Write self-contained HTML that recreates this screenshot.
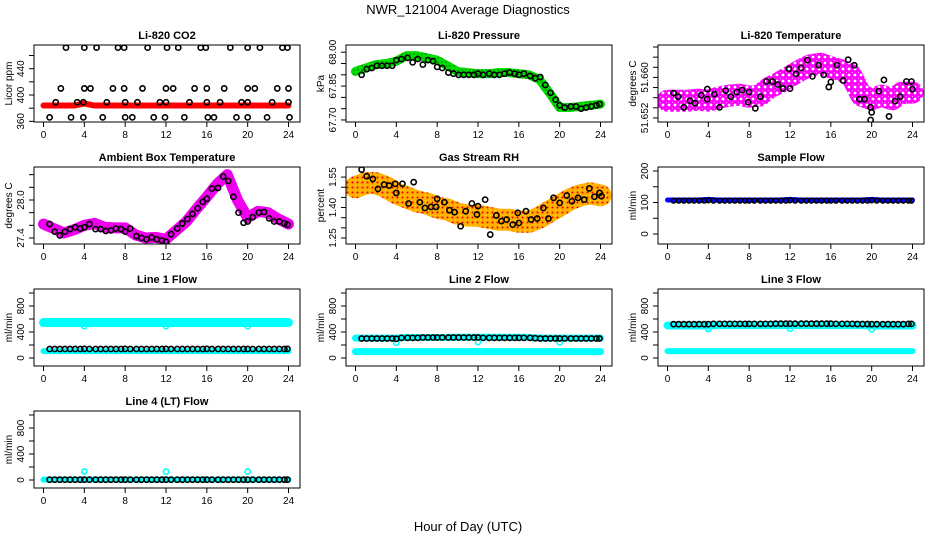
<!DOCTYPE html>
<html><head><meta charset="utf-8"><style>
html,body{margin:0;padding:0;background:#fff;}
svg{display:block;font-family:"Liberation Sans",sans-serif;}
</style></head><body>
<svg id="chart" width="936" height="540" viewBox="0 0 936 540" xmlns="http://www.w3.org/2000/svg">
<defs>
<pattern id="magPat" width="6" height="6" patternUnits="userSpaceOnUse"><rect width="6" height="6" fill="#f0f"/><circle cx="3" cy="3" r="1.4" fill="#fff"/><circle cx="0" cy="0" r="0.9" fill="#fff"/></pattern>
<pattern id="rhPat" width="5" height="5" patternUnits="userSpaceOnUse"><rect width="5" height="5" fill="#ffb000"/><circle cx="2.5" cy="2.5" r="1" fill="#e00"/><circle cx="0" cy="0" r="0.8" fill="#ff0"/></pattern>
<pattern id="grnPat" width="4" height="4" patternUnits="userSpaceOnUse"><rect width="4" height="4" fill="#0d0"/><circle cx="2" cy="2" r="0.7" fill="#060"/></pattern>
</defs>
<text x="468" y="14" font-size="13" text-anchor="middle">NWR_121004  Average Diagnostics</text>
<text x="468" y="531" font-size="13" text-anchor="middle">Hour of Day (UTC)</text>
</svg>
<script>
const hoursB=[0.6,1.1,1.6,2.1,2.6,3.1,3.6,4.0,4.5,5.1,5.6,6.1,6.6,7.1,7.6,8.0,8.5,9.1,9.6,10.1,10.6,11.1,11.6,12.0,12.5,13.1,13.6,14.1,14.6,15.1,15.6,16.0,16.5,17.1,17.6,18.1,18.6,19.1,19.6,20.0,20.5,21.1,21.6,22.1,22.6,23.1,23.6,23.9];
const hoursBand=[0,1,2,3,4,5,6,7,8,9,10,11,12,13,14,15,16,17,18,19,20,21,22,23,24];
const xTicks=[0,4,8,12,16,20,24];

const co2RedV=[384,384,384,384,387,384,384,384,384,384,384,384,384,384,384,384,384,384,384,384,384,384,384,384,384];
const co2OutT=[2.2,4.0,5.2,7.3,7.9,10.2,12.1,13.2,15.4,15.9,18.3,20.0,21.2,23.4,23.9, 1.7,4.0,4.6,6.8,7.9,9.7,12.0,12.7,14.8,16.0,17.7,20.0,20.7,22.9,24.0, 1.2,3.3,3.9,6.2,8.0,9.2,11.4,12.0,14.3,16.0,17.3,19.4,20.0,22.4,24.0, 0.6,2.7,3.9,5.8,8.0,8.7,10.8,11.9,13.8,16.1,16.7,18.9,20.0,21.9,24.1];
const co2OutV=[472,472,472,472,472,472,472,472,472,472,472,472,472,472,472, 410,410,410,410,410,410,410,410,410,410,410,410,410,410,410, 389,389,389,389,389,389,389,389,389,389,389,389,389,389,389, 366,366,366,366,366,366,366,366,366,366,366,366,366,366,366];
const presBandV=[67.915,67.93,67.945,67.95,67.96,67.985,67.985,67.975,67.965,67.94,67.915,67.91,67.905,67.905,67.91,67.91,67.905,67.90,67.88,67.82,67.755,67.755,67.76,67.765,67.77];
const presBlackV=[67.90,67.925,67.93,67.94,67.94,67.94,67.94,67.965,67.97,67.975,67.955,67.97,67.945,67.965,67.96,67.935,67.93,67.91,67.905,67.90,67.90,67.90,67.90,67.905,67.90,67.905,67.90,67.90,67.905,67.91,67.905,67.90,67.905,67.895,67.885,67.89,67.855,67.82,67.79,67.765,67.755,67.76,67.76,67.75,67.755,67.76,67.765,67.77];
const tempBandV=[51.6554,51.6554,51.6554,51.6556,51.6554,51.6560,51.6564,51.6566,51.6562,51.6564,51.6580,51.6590,51.6602,51.6614,51.6624,51.6627,51.6620,51.6614,51.6604,51.6564,51.6557,51.6564,51.6557,51.6570,51.6570];
const tempT=[0.6,1.05,1.6,2.2,2.7,3.3,3.9,3.9,4.6,5.1,5.7,6.2,6.8,7.3,7.9,8.0,8.6,9.1,9.7,10.3,10.8,11.3,11.9,12.0,12.6,13.1,13.7,14.2,14.8,15.3,15.8,16.0,16.6,17.2,17.7,18.3,18.8,19.3,19.9,20.0,19.9,20.7,21.2,21.7,22.3,22.8,23.4,23.9,24.0];
const tempV=[51.6569,51.6562,51.6541,51.6554,51.6549,51.6565,51.6577,51.6557,51.6567,51.6541,51.6574,51.6562,51.6571,51.6575,51.6551,51.6571,51.6539,51.6562,51.6592,51.6592,51.6586,51.6578,51.6617,51.6578,51.6607,51.6619,51.6634,51.6602,51.6624,51.6605,51.6581,51.6591,51.6624,51.6594,51.6635,51.6624,51.6557,51.6557,51.6541,51.6531,51.6516,51.6573,51.6595,51.6523,51.6553,51.6562,51.6592,51.6592,51.6577];
const ambBandV=[27.62,27.55,27.48,27.53,27.60,27.63,27.57,27.56,27.56,27.45,27.40,27.41,27.38,27.52,27.66,27.86,28.05,28.25,28.40,28.00,27.72,27.82,27.80,27.70,27.62];
const ambBlackV=[27.62,27.50,27.44,27.50,27.54,27.57,27.55,27.57,27.62,27.54,27.54,27.51,27.52,27.55,27.54,27.50,27.55,27.43,27.40,27.38,27.41,27.38,27.36,27.34,27.46,27.55,27.63,27.70,27.78,27.87,27.97,28.02,28.18,28.19,28.37,28.30,28.05,27.80,27.64,27.66,27.73,27.80,27.81,27.71,27.66,27.66,27.63,27.61];
const rhBandV=[1.50,1.52,1.52,1.50,1.47,1.45,1.43,1.42,1.40,1.39,1.37,1.36,1.36,1.35,1.34,1.34,1.33,1.33,1.35,1.38,1.41,1.44,1.46,1.47,1.46];
const rhT=[0.6,1.1,1.7,2.2,2.8,3.3,3.9,4.0,4.6,5.2,5.7,6.3,6.8,7.4,7.9,8.0,8.7,9.2,9.7,10.3,10.8,11.4,11.9,12.0,12.7,13.2,13.8,14.3,14.8,15.4,15.9,16.0,16.7,17.2,17.8,18.4,18.9,19.4,20.0,20.7,21.2,21.8,22.4,22.9,23.4,23.9,24.1];
const rhV=[1.587,1.554,1.541,1.492,1.513,1.508,1.517,1.472,1.517,1.420,1.525,1.426,1.398,1.403,1.403,1.443,1.426,1.387,1.377,1.308,1.382,1.420,1.366,1.407,1.439,1.267,1.361,1.333,1.341,1.316,1.374,1.324,1.382,1.341,1.346,1.398,1.346,1.448,1.423,1.459,1.431,1.448,1.439,1.494,1.453,1.472,1.456];
const sfBlueV=[108,108,108,108,110,108,108,108,108,108,108,108,110,108,108,108,108,108,108,108,110,108,108,108,108];
const sfBlackV=[106,106,106,106,106,106,106,107,106,106,106,106,106,106,106,106,106,106,106,106,106,106,106,107,106,106,106,106,106,106,106,106,106,106,106,106,106,106,106,107,106,106,106,106,106,106,106,106];
const l1UpperV=[545,545,545,545,545,545,545,545,545,545,545,545,545,545,545,545,545,545,545,545,545,545,545,545,545];
const l1LowerV=[105,105,105,105,105,105,105,105,105,105,105,105,105,105,105,105,105,105,105,105,105,105,105,105,105];
const l1BlackV=[138,138,138,138,138,138,138,140,138,138,138,138,138,138,138,140,138,138,138,138,138,138,138,140,138,138,138,138,138,138,138,140,138,138,138,138,138,138,138,138,138,138,138,138,138,138,138,140];
const l2UpperV=[305,305,305,305,305,315,315,315,315,315,320,320,320,320,320,320,320,315,305,305,305,305,305,305,305];
const l2LowerV=[98,98,98,98,98,98,98,98,98,98,98,98,98,98,98,98,98,98,98,98,98,98,98,98,98];
const l2BlackV=[300,300,300,300,300,300,300,295,310,310,310,310,315,315,315,315,315,315,315,315,315,315,315,315,310,310,310,310,310,310,310,310,310,310,305,300,300,300,300,300,300,300,300,300,300,300,300,300];
const l3UpperV=[500,500,500,500,500,505,505,505,505,505,505,505,505,505,505,505,505,505,505,505,500,500,500,500,500];
const l3LowerV=[105,105,105,105,105,105,105,105,105,105,105,105,105,105,105,105,105,105,105,105,105,105,105,105,105];
const l3BlackV=[520,520,520,520,520,520,520,520,525,525,525,525,525,525,525,525,525,525,525,525,528,528,528,528,528,528,528,528,528,528,528,528,525,525,525,525,522,522,522,520,520,520,520,520,520,520,525,525];
const l4V=[5,5,5,5,5,5,5,5,5,5,5,5,5,5,5,5,5,5,5,5,5,5,5,5,5];
const l4BlackV=[5,5,5,5,5,5,5,5,5,5,5,5,5,5,5,5,5,5,5,5,5,5,5,5,5,5,5,5,5,5,5,5,5,5,5,5,5,5,5,5,5,5,5,5,5,5,5,5];
const dipT=[4,12,20];
const l1DipV=[490,490,490];
const l2DipV=[235,245,240];
const l3DipV=[445,450,440];
const l4SpikeV=[130,130,130];

const NS='http://www.w3.org/2000/svg';
const svg=document.getElementById('chart');
const W=266,H=77;
const colX=[34,346,658], rowY=[45,167,289,411];
function mk(tag,attrs,parent){const e=document.createElementNS(NS,tag);for(const k in attrs)e.setAttribute(k,attrs[k]);(parent||svg).appendChild(e);return e;}

function panel(id,col,row,title,ylab,lo,hi,ticks,labels){
  const x0=colX[col],y0=rowY[row];
  const g=mk('g',{});
  
  
  const sx=t=>x0+9.5+t*245/24;
  const sy=v=>y0+H-(v-lo)/(hi-lo)*H;
  const cp=mk('clipPath',{id:'clip-'+id},g);
  mk('rect',{x:x0,y:y0,width:W,height:H},cp);
  const plot=mk('g',{'clip-path':'url(#clip-'+id+')'},g);
  
  
  const t=mk('text',{x:x0+W/2,y:y0-6,'font-size':11,'font-weight':'bold','text-anchor':'middle'},g);
  t.textContent=title;
  
  
  const box=mk('rect',{x:x0,y:y0,width:W,height:H,fill:'none',stroke:'#000','stroke-width':1},g);
  
  
  xTicks.forEach(v=>{
    mk('line',{x1:sx(v),x2:sx(v),y1:y0+H,y2:y0+H+5,stroke:'#000'},g);
    const l=mk('text',{x:sx(v),y:y0+H+16,'font-size':10,'text-anchor':'middle'},g);
    l.textContent=v;
    
    
  });
  ticks.forEach((v,i)=>{
    const y=sy(v);
    mk('line',{x1:x0-5,x2:x0,y1:y,y2:y,stroke:'#000'},g);
    if(labels[i]){
      const l=mk('text',{x:x0-10,y:y,'font-size':10,'text-anchor':'middle',transform:'rotate(-90 '+(x0-10)+' '+y+')'},g);
      l.textContent=labels[i];
      
      
    }
  });
  const yc=y0+H/2;
  const yl=mk('text',{x:x0-22,y:yc,'font-size':10,'text-anchor':'middle',transform:'rotate(-90 '+(x0-22)+' '+yc+')'},g);
  yl.textContent=ylab;
  
  
  return {sx,sy,plot};
}
function band(p,ts,vs,color,w,name){
  const pts=ts.map((t,i)=>p.sx(t)+','+p.sy(vs[i])).join(' ');
  const e=mk('polyline',{points:pts,fill:'none',stroke:color,'stroke-width':w,'stroke-linejoin':'round','stroke-linecap':'round'},p.plot);
  
  
}
function pts(p,ts,vs,color,r,sw,name){
  ts.forEach((t,i)=>{
    const c=mk('circle',{cx:p.sx(t),cy:p.sy(vs[i]),r:r,fill:'none',stroke:color,'stroke-width':sw},p.plot);
    
    
  });
}

let p;
p=panel('co2',0,0,'Li-820 CO2','Licor ppm',359,476,[360,380,400,420,440,460],['360','','400','','440','']);
band(p,hoursBand,co2RedV,'#f00',6,'co2-red-series');
pts(p,co2OutT,co2OutV,'#000',2.6,1.6,'co2-hourly-point');
p=panel('pressure',1,0,'Li-820 Pressure','kPa',67.691,68.032,[67.70,67.75,67.80,67.85,67.90,67.95,68.00],['67.70','','','67.85','','','68.00']);
band(p,hoursBand,presBandV,'url(#grnPat)',9,'pressure-green-series');
pts(p,hoursB,presBlackV,'#000',2.6,1.6,'pressure-hourly-point');
p=panel('li820temp',2,0,'Li-820 Temperature','degrees C',51.6512,51.6664,[51.652,51.654,51.656,51.658,51.660,51.662,51.664,51.666],['51.652','','','','51.660','','','']);
band(p,hoursBand,tempBandV,'url(#magPat)',22,'temperature-magenta-series');
pts(p,tempT,tempV,'#000',2.6,1.6,'temperature-hourly-point');
p=panel('ambient',0,1,'Ambient Box Temperature','degrees C',27.305,28.521,[27.4,27.6,27.8,28.0,28.2,28.4],['27.4','','','28.0','','']);
band(p,hoursBand,ambBandV,'#e0e',11,'ambient-magenta-series');
pts(p,hoursB,ambBlackV,'#000',2.6,1.6,'ambient-hourly-point');
p=panel('rh',1,1,'Gas Stream RH','percent',1.2204,1.5997,[1.25,1.30,1.35,1.40,1.45,1.50,1.55],['1.25','','','1.40','','','1.55']);
band(p,hoursBand,rhBandV,'url(#rhPat)',22,'rh-orange-series');
pts(p,rhT,rhV,'#000',2.6,1.6,'rh-hourly-point');
p=panel('sampleflow',2,1,'Sample Flow','ml/min',-31.7,212.7,[0,50,100,150,200],['0','','100','','200']);
band(p,hoursBand,sfBlueV,'#00f',5,'sample-flow-blue-series');
pts(p,hoursB,sfBlackV,'#000',2.4,1.5,'sample-flow-hourly-point');
const flowTicks=[0,200,400,600,800,1000], flowLabels=['0','','400','','800',''];
p=panel('line1',0,2,'Line 1 Flow','ml/min',-123,1061,flowTicks,flowLabels);
band(p,hoursBand,l1UpperV,'#0ff',9,'line1-upper-cyan-series');
band(p,hoursBand,l1LowerV,'#0ff',6,'line1-lower-cyan-series');
pts(p,dipT,l1DipV,'#0ff',2.6,1.6,'line1-dip-point');
pts(p,hoursB,l1BlackV,'#000',2.6,1.6,'line1-hourly-point');
p=panel('line2',1,2,'Line 2 Flow','ml/min',-123,1061,flowTicks,flowLabels);
band(p,hoursBand,l2UpperV,'#0ff',7,'line2-upper-cyan-series');
band(p,hoursBand,l2LowerV,'#0ff',7,'line2-lower-cyan-series');
pts(p,dipT,l2DipV,'#0ff',2.6,1.6,'line2-dip-point');
pts(p,hoursB,l2BlackV,'#000',2.6,1.6,'line2-hourly-point');
p=panel('line3',2,2,'Line 3 Flow','ml/min',-123,1061,flowTicks,flowLabels);
band(p,hoursBand,l3UpperV,'#0ff',8,'line3-upper-cyan-series');
band(p,hoursBand,l3LowerV,'#0ff',6,'line3-lower-cyan-series');
pts(p,dipT,l3DipV,'#0ff',2.6,1.6,'line3-dip-point');
pts(p,hoursB,l3BlackV,'#000',2.6,1.6,'line3-hourly-point');
p=panel('line4',0,3,'Line 4 (LT) Flow','ml/min',-123,1061,flowTicks,flowLabels);
band(p,hoursBand,l4V,'#0ff',6,'line4-cyan-series');
pts(p,dipT,l4SpikeV,'#0ff',2.6,1.6,'line4-spike-point');
pts(p,hoursB,l4BlackV,'#000',2.6,1.6,'line4-hourly-point');
</script>
</body></html>
